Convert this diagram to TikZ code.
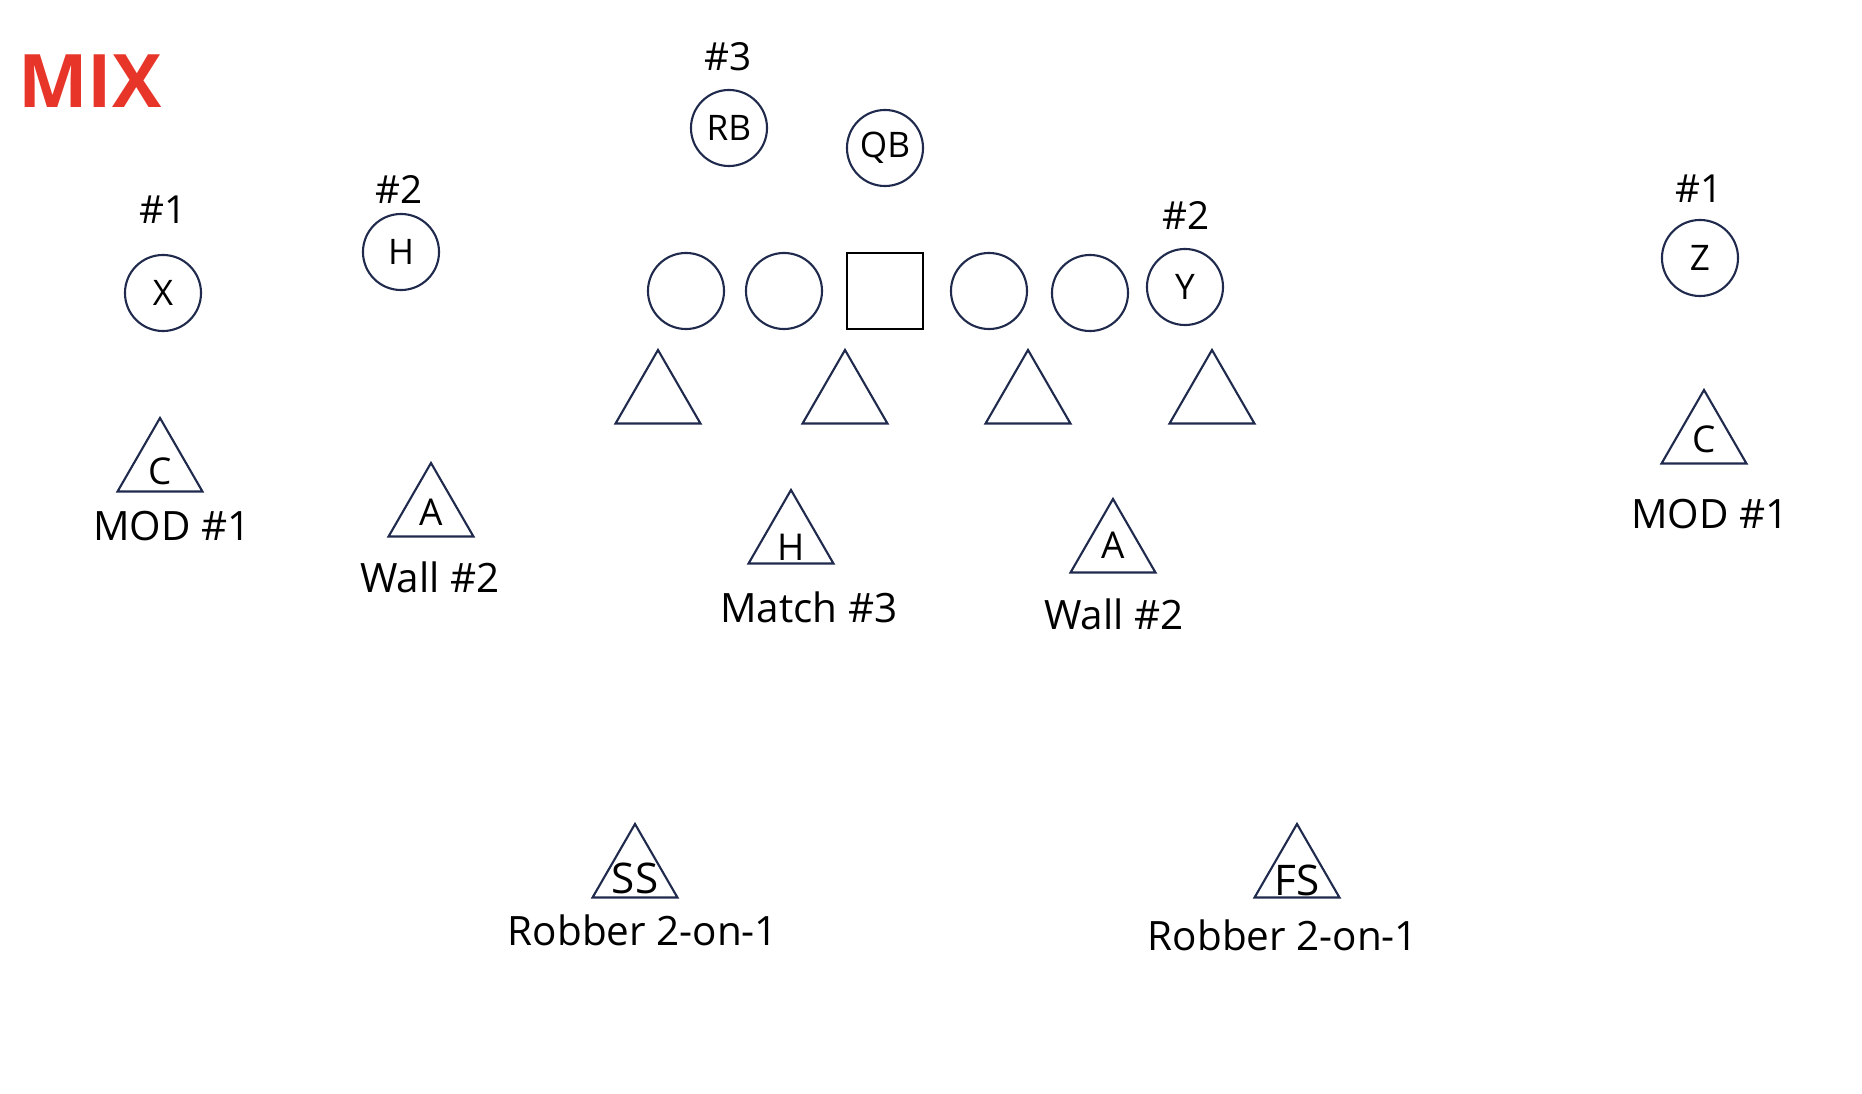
\documentclass[tikz,border=0pt]{standalone}
\usepackage{fontspec}
\setmainfont{Open Sans}
\usetikzlibrary{shapes.geometric}
\definecolor{navy}{HTML}{1F2A4D}
\definecolor{mixred}{HTML}{E8352A}

\begin{document}
\begin{tikzpicture}[
  x=0.01cm, y=-0.01cm,
  player/.style={
    circle, draw=navy, line width=0.6pt, minimum size=0.76cm,
    inner sep=0pt, font=\fontsize{10}{12}\selectfont
  },
  snapbox/.style={
    rectangle, draw=black, line width=0.8pt, minimum size=0.76cm, inner sep=0pt
  },
  defender/.style={
    regular polygon, regular polygon sides=3, draw=navy, line width=0.6pt,
    minimum size=0.98cm, inner sep=0pt
  },
  tag/.style={font=\fontsize{11}{13}\selectfont},
  job/.style={font=\fontsize{11.5}{14}\selectfont},
  letter/.style={font=\fontsize{10.5}{12}\selectfont},
  bigletter/.style={font=\fontsize{12}{14}\selectfont},
]
\useasboundingbox (0,0) rectangle (1862,1094);

\node[font=\fontsize{21}{24}\selectfont\bfseries, text=mixred] (title) at (90,81) {MIX};

% offense
\node[player] (x)  at (163,293)  {X};
\node[player] (h)  at (401,252)  {H};
\node[player] (rb) at (729,128)  {RB};
\node[player] (qb) at (885,148)  {QB};
\node[player] (lt) at (686,291)  {};
\node[player] (lg) at (784,291)  {};
\node[snapbox] (c) at (885,291)  {};
\node[player] (rg) at (989,291)  {};
\node[player] (rt) at (1090,293) {};
\node[player] (y)  at (1185,287) {Y};
\node[player] (z)  at (1700,258) {Z};

\node[tag] (nx)  at (163,210)  {\#1};
\node[tag] (nh)  at (399,189)  {\#2};
\node[tag] (nrb) at (728,57)   {\#3};
\node[tag] (ny)  at (1186,215) {\#2};
\node[tag] (nz)  at (1699,189) {\#1};

% front four
\foreach \i/\px in {1/658, 2/845, 3/1028, 4/1212} {
  \node[defender] (dl\i) at (\px,399) {};
}

% coverage
\node[defender, label={[letter, yshift=-0.04cm]center:C}] (lc) at (160,467)  {};
\node[defender, label={[letter]center:A}] (la) at (431,512)  {};
\node[defender, label={[letter, yshift=-0.08cm]center:H}] (mh) at (791,539)  {};
\node[defender, label={[letter, yshift=0.03cm]center:A}] (ra) at (1113,548) {};
\node[defender, label={[letter]center:C}] (rc) at (1704,439) {};
\node[defender, label={[bigletter, yshift=-0.05cm]center:SS}] (ss) at (635,873)  {};
\node[defender, label={[bigletter, yshift=-0.07cm]center:FS}] (fs) at (1297,873) {};

\node[job] (jlc) at (172,526)  {MOD \#1};
\node[job] (jla) at (430,577)  {Wall \#2};
\node[job] (jmh) at (809,607)  {Match \#3};
\node[job] (jra) at (1114,614) {Wall \#2};
\node[job] (jrc) at (1710,514) {MOD \#1};
\node[job] (jss) at (643,930)  {Robber 2-on-1};
\node[job] (jfs) at (1283,935) {Robber 2-on-1};
\end{tikzpicture}
\end{document}
